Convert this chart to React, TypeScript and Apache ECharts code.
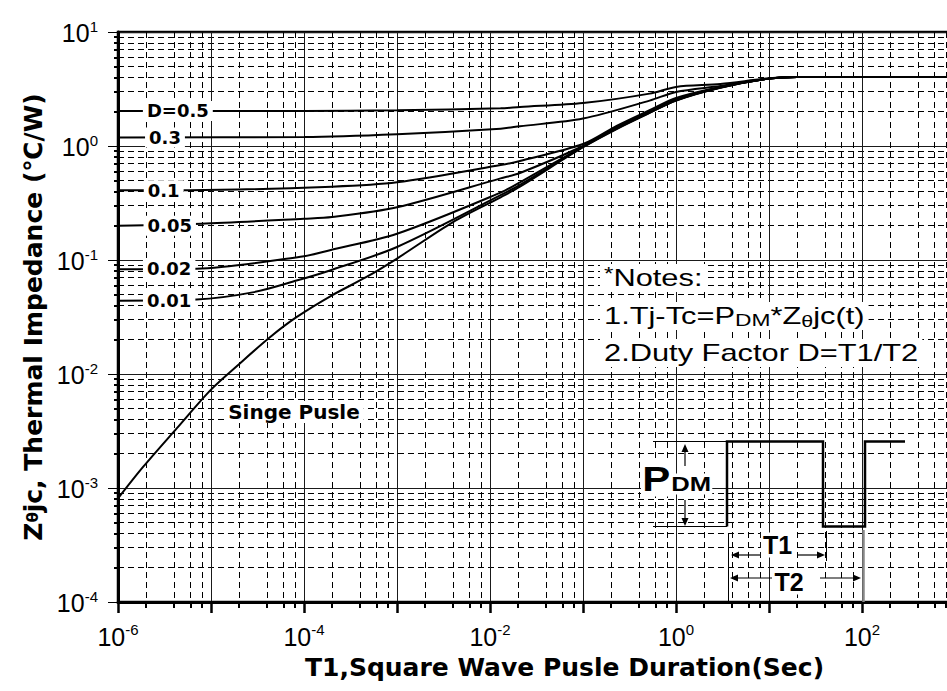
import React, { useEffect, useRef } from 'react';
import * as echarts from 'echarts';

// ---- axis ranges / grid factors ----
const xMin = 1e-6;
const xMax = 1e3;
const yMin = 1e-4;
const yMax = 10;
const xDecades = [-6, -5, -4, -3, -2, -1, 0, 1, 2];
const yDecades = [-4, -3, -2, -1, 0];
const xMinorFactors = [2, 4, 6, 8];
const yMinorFactors = [2, 3, 4, 5, 6, 7, 8, 9];

// ---- curves [T1 (s), Zthjc (C/W)] ----
const singlePulse = [
  [1e-6, 8.1e-4], [1.86e-6, 1.53e-3], [4.3e-6, 3.35e-3], [1e-5, 7.3e-3], [2e-5, 1.22e-2],
  [4.3e-5, 2.1e-2], [8.3e-5, 3.15e-2], [2e-4, 4.9e-2], [4.7e-4, 7.1e-2],
  [1e-3, 0.103], [4e-3, 0.215], [1.3e-2, 0.355], [2.1e-2, 0.44], [0.1, 0.975], [0.23, 1.41],
  [0.52, 1.95], [1, 2.5], [3, 3.24], [10, 3.9], [20, 4.03], [1000, 4.03],
];
const d001 = [
  [1e-6, 0.044], [7e-6, 0.045], [2.8e-5, 0.052], [8.3e-5, 0.066], [1.9e-4, 0.081], [1e-3, 0.13],
  [1.3e-2, 0.37], [2.1e-2, 0.455], [0.1, 0.98], [0.23, 1.42], [0.52, 1.96], [1, 2.51], [3, 3.25],
  [10, 3.9], [20, 4.03], [1000, 4.03],
];
const d002 = [
  [1e-6, 0.083], [7e-6, 0.084], [1e-4, 0.108], [1.9e-4, 0.122], [1e-3, 0.17], [1.3e-2, 0.39],
  [2.1e-2, 0.48], [0.1, 0.99], [0.23, 1.43], [0.52, 1.97], [1, 2.53], [3, 3.26], [10, 3.9],
  [20, 4.03], [1000, 4.03],
];
const d005 = [
  [1e-6, 0.2], [7.8e-6, 0.208], [1e-4, 0.23], [2e-4, 0.238], [1e-3, 0.29], [1.3e-2, 0.52],
  [2.1e-2, 0.58], [0.1, 1.0], [0.23, 1.46], [0.52, 2.0], [1, 2.57], [3, 3.28], [10, 3.9],
  [20, 4.03], [1000, 4.03],
];
const d01 = [
  [1e-6, 0.41], [6e-6, 0.41], [2e-4, 0.44], [1e-3, 0.48], [1.3e-2, 0.68], [2.1e-2, 0.74],
  [0.1, 1.04], [0.23, 1.5], [0.52, 2.06], [1, 2.64], [3, 3.3], [10, 3.9], [20, 4.03], [1000, 4.03],
];
const d03 = [
  [1e-6, 1.19], [1e-4, 1.2], [1e-3, 1.27], [1.3e-2, 1.42], [2.1e-2, 1.49], [0.1, 1.74],
  [0.52, 2.5], [1, 2.98], [3, 3.36], [10, 3.9], [20, 4.03], [1000, 4.03],
];
const d05 = [
  [1e-6, 2.03], [1e-4, 2.03], [1e-3, 2.06], [1.3e-2, 2.14], [2.1e-2, 2.2], [0.1, 2.38],
  [0.52, 2.88], [1, 3.3], [3, 3.5], [10, 3.92], [20, 4.03], [1000, 4.03],
];

// ---- curve labels and where they sit (data coords) ----
const seriesNames = ['D=0.5', 'D=0.3', 'D=0.1', 'D=0.05', 'D=0.02', 'D=0.01', 'Singe Pusle'];
const seriesLabels = ['D=0.5', '0.3', '0.1', '0.05', '0.02', '0.01', 'Singe Pusle'];
const labelCoords = [
  [4.4e-6, 2.03], [3.2e-6, 1.19], [3.1e-6, 0.41], [3.6e-6, 0.2], [3.55e-6, 0.085],
  [3.55e-6, 0.0437], [7.8e-5, 4.65e-3],
];

const xTitle = 'T1,Square Wave Pusle Duration(Sec)';
const yTitle = 'Z{t|θ}jc, Thermal Impedance (℃/W)';
const notes = ['{s|*}Notes:', '1.Tj-Tc=P{d|DM}*Z{t|θ}jc(t)', '2.Duty Factor D=T1/T2'];

const tickRich = {
  b: { fontFamily: 'Liberation Sans', fontSize: 25, lineHeight: 27, color: '#000', verticalAlign: 'bottom' },
  s: { fontFamily: 'Liberation Sans', fontSize: 15, lineHeight: 15, color: '#000', verticalAlign: 'top' },
};

function head(x: number, y: number, dir: string) {
  const L = 8, W = 3.5;
  let pts: number[][] = [];
  if (dir === 'up') pts = [[x, y], [x - W, y + L], [x + W, y + L]];
  if (dir === 'down') pts = [[x, y], [x - W, y - L], [x + W, y - L]];
  if (dir === 'left') pts = [[x, y], [x + L, y - W], [x + L, y + W]];
  if (dir === 'right') pts = [[x, y], [x - L, y - W], [x - L, y + W]];
  return { type: 'polygon', z: 100, shape: { points: pts }, style: { fill: '#000' } };
}
function seg(x1: number, y1: number, x2: number, y2: number, w = 1.2, c = '#000') {
  return { type: 'line', z: 100, shape: { x1, y1, x2, y2 }, style: { stroke: c, lineWidth: w } };
}

export default function App() {
  const ref = useRef<HTMLDivElement>(null);
  useEffect(() => {
    if (!ref.current) return;
    const chart = echarts.init(ref.current, undefined, { renderer: 'svg' });
    const xMinor = xDecades.flatMap((e) => xMinorFactors.map((k) => k * Math.pow(10, e)));
    const yMinor = yDecades.flatMap((e) => yMinorFactors.map((k) => k * Math.pow(10, e)));
    const fmtY = (v: number) => `{b|10}{s|${Math.round(Math.log10(v))}}`;
    const fmtX = (v: number) => {
      const e = Math.round(Math.log10(v));
      return e % 2 === 0 ? `{b|10}{s|${e}}` : '';
    };
    const datasets = [d05, d03, d01, d005, d002, d001, singlePulse];
    const series = datasets.map((d, i) => ({
      type: 'line',
      name: seriesNames[i],
      data: d,
      xAxisIndex: 0,
      yAxisIndex: 0,
      showSymbol: false,
      symbol: 'none',
      smooth: 0.3,
      lineStyle: { color: '#000', width: 2 },
      markPoint: {
        symbol: 'rect',
        symbolSize: 1,
        silent: true,
        itemStyle: { color: 'rgba(0,0,0,0)' },
        label: {
          show: true,
          position: 'inside',
          formatter: seriesLabels[i],
          color: '#000',
          fontFamily: 'DejaVu Sans',
          fontWeight: 'bold',
          fontSize: i === 6 ? 20 : 18,
          backgroundColor: '#fff',
          padding: [1, 4],
        },
        data: [{ coord: labelCoords[i] }],
      },
    }));

    const noteStyle = (text: string) => ({
      text,
      fontFamily: 'Liberation Sans',
      fontSize: 23,
      lineHeight: 26,
      fill: '#000',
      backgroundColor: '#fff',
      padding: [1, 3],
      verticalAlign: 'middle',
      align: 'left',
      rich: {
        s: { fontFamily: 'Liberation Sans', fontSize: 18, lineHeight: 26, verticalAlign: 'top', fill: '#000' },
        d: { fontFamily: 'Liberation Sans', fontSize: 17, lineHeight: 26, verticalAlign: 'bottom', fill: '#000' },
        t: { fontFamily: 'Liberation Sans', fontSize: 16, lineHeight: 26, verticalAlign: 'bottom', fill: '#000' },
      },
    });

    const graphic = [
      { type: 'text', z: 100, x: 600, y: 278, scaleX: 1.34, style: noteStyle(notes[0]) },
      { type: 'text', z: 100, x: 600, y: 316, scaleX: 1.34, style: noteStyle(notes[1]) },
      { type: 'text', z: 100, x: 600, y: 353, scaleX: 1.34, style: noteStyle(notes[2]) },
      // pulse waveform schematic
      seg(653, 441.5, 727, 441.5, 1.2),
      seg(653, 526.5, 727, 526.5, 1.2),
      {
        type: 'polyline', z: 100,
        shape: { points: [[727, 526.5], [727, 441.5], [823, 441.5], [823, 526.5], [865, 526.5], [865, 441.5], [905, 441.5]] },
        style: { stroke: '#000', lineWidth: 2.5, fill: null },
      },
      seg(728.5, 533, 728.5, 602, 1),
      seg(826.5, 531, 826.5, 561, 1),
      seg(863.5, 530, 863.5, 602, 2.5, '#888'),
      seg(685, 450, 685, 466, 1.2), head(685, 444, 'up'),
      seg(685, 500, 685, 519, 1.2), head(685, 526, 'down'),
      seg(738, 555, 760, 555, 1.2), head(731, 555, 'left'),
      seg(797, 555, 818, 555, 1.2), head(825, 555, 'right'),
      seg(737, 578, 772, 578, 1.2), head(730, 578, 'left'),
      seg(820, 578, 854, 578, 1.2), head(861, 578, 'right'),
      {
        type: 'text', z: 101, x: 641, y: 479, scaleX: 1.2,
        style: { text: 'P', fontFamily: 'Liberation Sans', fontWeight: 'bold', fontSize: 35, fill: '#000', backgroundColor: '#fff', padding: [0, 1], verticalAlign: 'middle', align: 'left' },
      },
      {
        type: 'text', z: 101, x: 670, y: 484, scaleX: 1.22,
        style: { text: 'DM', fontFamily: 'Liberation Sans', fontWeight: 'bold', fontSize: 21, fill: '#000', backgroundColor: '#fff', padding: [0, 1], verticalAlign: 'middle', align: 'left' },
      },
      {
        type: 'text', z: 101, x: 777.5, y: 545,
        style: { text: 'T1', fontFamily: 'Liberation Sans', fontWeight: 'bold', fontSize: 25, fill: '#000', backgroundColor: '#fff', padding: [0, 2], verticalAlign: 'middle', align: 'center' },
      },
      {
        type: 'text', z: 101, x: 789, y: 582,
        style: { text: 'T2', fontFamily: 'Liberation Sans', fontWeight: 'bold', fontSize: 25, fill: '#000', backgroundColor: '#fff', padding: [0, 2], verticalAlign: 'middle', align: 'center' },
      },
    ];

    const option: any = {
      animation: false,
      backgroundColor: '#fff',
      grid: {
        left: 118, right: 5, top: 32, bottom: 89,
        show: true, borderColor: '#000', borderWidth: 2.5, backgroundColor: 'rgba(0,0,0,0)',
      },
      xAxis: [
        {
          type: 'log', logBase: 10, min: xMin, max: xMax, splitNumber: 10, position: 'bottom',
          axisLine: { show: true, onZero: false, lineStyle: { color: '#000', width: 3 } },
          axisTick: { show: true, inside: false, length: 11, lineStyle: { color: '#000', width: 2.5 } },
          axisLabel: { show: true, margin: 20, formatter: fmtX, rich: tickRich },
          splitLine: { show: true, lineStyle: { color: '#1a1a1a', width: 1 } },
          minorTick: { show: false },
          minorSplitLine: { show: false },
          name: xTitle,
          nameLocation: 'middle',
          nameGap: 53,
          nameTextStyle: {
            fontFamily: 'DejaVu Sans', fontWeight: 'bold', fontSize: 25, color: '#000',
            padding: [0, 0, 0, 56],
          },
        },
        {
          type: 'log', logBase: 10, min: xMin, max: xMax, splitNumber: 10, position: 'bottom',
          axisLine: { show: false },
          axisLabel: { show: false },
          axisTick: { show: true, inside: false, length: 6, customValues: xMinor, lineStyle: { color: '#000', width: 2 } },
          splitLine: { show: true, lineStyle: { color: '#000', width: 1, type: [6, 4] } },
        },
      ],
      yAxis: [
        {
          type: 'log', logBase: 10, min: yMin, max: yMax, splitNumber: 10, position: 'left',
          axisLine: { show: true, onZero: false, lineStyle: { color: '#000', width: 3 } },
          axisTick: { show: true, inside: false, length: 10, lineStyle: { color: '#000', width: 1 } },
          axisLabel: { show: true, margin: 20, formatter: fmtY, rich: tickRich },
          splitLine: { show: true, lineStyle: { color: '#1a1a1a', width: 1 } },
          minorTick: { show: false },
          minorSplitLine: { show: false },
          name: yTitle,
          nameLocation: 'middle',
          nameGap: 72,
          nameTextStyle: {
            fontFamily: 'DejaVu Sans', fontWeight: 'bold', fontSize: 25, color: '#000',
            rich: { t: { fontFamily: 'DejaVu Sans', fontWeight: 'bold', fontSize: 15, color: '#000', verticalAlign: 'middle' } },
          },
        },
        {
          type: 'log', logBase: 10, min: yMin, max: yMax, splitNumber: 10, position: 'left',
          axisLine: { show: false },
          axisLabel: { show: false },
          axisTick: { show: true, inside: false, length: 4, customValues: yMinor, lineStyle: { color: '#000', width: 2 } },
          splitLine: { show: true, lineStyle: { color: '#000', width: 1, type: [6, 4] } },
        },
      ],
      series,
      graphic,
    };
    chart.setOption(option);
    return () => chart.dispose();
  }, []);
  return (
    <div style={{ position: 'fixed', left: 0, top: 0, width: 947, height: 691, overflow: 'hidden', background: '#fff' }}>
      <div ref={ref} style={{ width: 960, height: 691 }} />
    </div>
  );
}
